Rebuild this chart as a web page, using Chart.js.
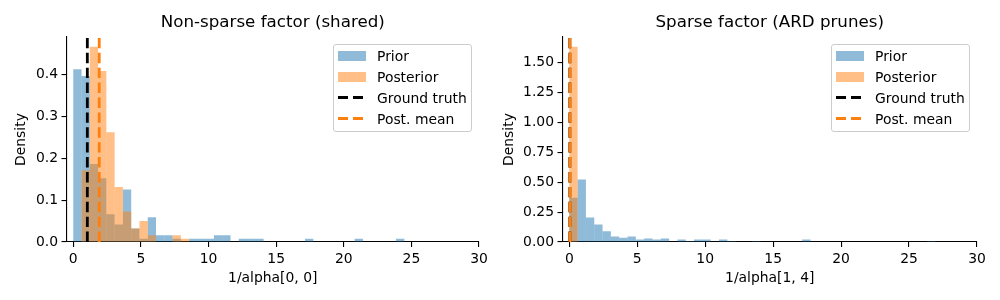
<!DOCTYPE html>
<html lang="en">
<head>
<meta charset="UTF-8" />
<title>Prior vs posterior of 1/alpha</title>
<script src="https://cdn.jsdelivr.net/npm/chart.js"></script>
<style>
  body { margin: 0; background: #fff; font-family: 'DejaVu Sans', sans-serif; }
  .fig { position: relative; width: 1000px; height: 300px; }
  .panel { position: absolute; top: 0; width: 500px; height: 300px; }
  .legend {
    position: absolute; top: 44px; width: 139px; height: 88px;
    box-sizing: border-box; border: 1px solid #cccccc; border-radius: 3px;
    background: rgba(255, 255, 255, 0.8); font-size: 13.9px; color: #000; z-index: 2;
  }
  .legend .row { position: absolute; left: 4px; height: 21px; display: flex; align-items: center; white-space: nowrap; }
  .legend .patch { width: 28px; height: 10px; margin-right: 11px; }
  .legend .dash { width: 28px; height: 2.8px; margin-right: 11px; }
</style>
</head>
<body>
<div class="fig">
  <div class="panel" style="left:0"><canvas id="c1" width="500" height="300"></canvas></div>
  <div class="panel" style="left:500px"><canvas id="c2" width="500" height="300"></canvas></div>
  <div class="legend" id="leg1" style="left:333px"></div>
  <div class="legend" id="leg2" style="left:831px"></div>
</div>

<script>
  // shared histogram bins over [0, 30]
  const binWidth = 0.612;

  // left panel: 1/alpha[0, 0], density per bin (bin 0 starts at 0)
  const priorDensity1 = [0.412, 0.396, 0.186, 0.152, 0.066, 0.042, 0.125, 0.032, 0.008, 0.059,
                         0.016, 0.016, 0.008, 0, 0.008, 0.008, 0.008, 0.016, 0.016, 0,
                         0.008, 0.008, 0.008, 0, 0, 0, 0, 0, 0.008, 0,
                         0, 0, 0, 0, 0.008, 0, 0, 0, 0, 0.008];
  const postDensity1 = [0, 0.171, 0.466, 0.408, 0.262, 0.131, 0.073, 0.032, 0.050, 0.016,
                        0, 0, 0.016, 0.008];
  const truth1 = 1.04;
  const postMean1 = 1.92;
  const yMax1 = 0.489;

  // right panel: 1/alpha[1, 4]
  const priorDensity2 = [0.370, 0.523, 0.204, 0.147, 0.090, 0.047, 0.036, 0.045, 0.020, 0.029,
                         0.020, 0.029, 0, 0.020, 0.008, 0.020, 0.020, 0, 0.020, 0.008,
                         0, 0, 0.008, 0, 0, 0, 0, 0, 0.020, 0,
                         0, 0, 0, 0, 0, 0, 0, 0, 0, 0,
                         0, 0, 0, 0.008];
  const postDensity2 = [1.633];
  const truth2 = 0.04;
  const postMean2 = 0.05;
  const yMax2 = 1.715;

  const legendItems = [
    { label: 'Prior', kind: 'patch', color: 'rgba(31,119,180,0.5)' },
    { label: 'Posterior', kind: 'patch', color: 'rgba(255,127,14,0.5)' },
    { label: 'Ground truth', kind: 'dash', color: '#000000' },
    { label: 'Post. mean', kind: 'dash', color: '#ff7f0e' }
  ];

  Chart.defaults.font.family = "'DejaVu Sans', sans-serif";
  Chart.defaults.color = '#000';

  const tickFont = { size: 13.9 };

  function toBars(dens) {
    return dens.map((d, i) => ({ x: (i + 0.5) * binWidth, y: d }));
  }

  function vline(x, yMax) {
    return [{ x: x, y: 0 }, { x: x, y: yMax }];
  }

  function makeChart(id, cfg) {
    const barOpts = { borderWidth: 0, barPercentage: 1, categoryPercentage: 1, grouped: false, inflateAmount: 0 };
    const lineOpts = { borderWidth: 2.8, borderDash: [10.4, 4.5], pointRadius: 0, fill: false, tension: 0 };
    return new Chart(document.getElementById(id), {
      type: 'bar',
      data: {
        datasets: [
          Object.assign({ label: 'Prior', data: toBars(cfg.prior), backgroundColor: 'rgba(31,119,180,0.5)', order: 3 }, barOpts),
          Object.assign({ label: 'Posterior', data: toBars(cfg.post), backgroundColor: 'rgba(255,127,14,0.5)', order: 2 }, barOpts),
          Object.assign({ type: 'line', label: 'Ground truth', data: vline(cfg.truth, cfg.yMax), borderColor: '#000000', order: 1 }, lineOpts),
          Object.assign({ type: 'line', label: 'Post. mean', data: vline(cfg.mean, cfg.yMax), borderColor: '#ff7f0e', order: 0 }, lineOpts)
        ]
      },
      options: {
        responsive: false,
        animation: false,
        layout: { padding: { left: 0, right: cfg.padRight, top: 0, bottom: 0 } },
        plugins: {
          legend: { display: false },
          tooltip: { enabled: false },
          title: {
            display: true, text: cfg.title, fullSize: false, color: '#000',
            font: { size: 16.7, weight: 'normal' }, padding: { top: 13, bottom: 4 }
          }
        },
        scales: {
          x: {
            type: 'linear', min: -0.5, max: 30, offset: false,
            afterFit: s => { s.height = 58; },
            border: { display: true, color: '#000', width: 1.1 },
            grid: { offset: false, drawOnChartArea: false, drawTicks: true, tickLength: 5, color: '#000', lineWidth: 1.1 },
            ticks: { stepSize: 5, includeBounds: false, font: tickFont, color: '#000', padding: 4, maxRotation: 0, autoSkip: false },
            title: { display: true, text: cfg.xLabel, color: '#000', font: tickFont, padding: { top: 0, bottom: 13 } }
          },
          y: {
            min: 0, max: cfg.yMax,
            afterFit: s => { s.width = cfg.yWidth; },
            border: { display: true, color: '#000', width: 1.1 },
            grid: { drawOnChartArea: false, drawTicks: true, tickLength: 5, color: '#000', lineWidth: 1.1 },
            ticks: { stepSize: cfg.yStep, includeBounds: false, font: tickFont, color: '#000', padding: 3.5,
                     callback: v => v.toFixed(cfg.yDigits) },
            title: { display: true, text: 'Density', color: '#000', font: tickFont, padding: { top: cfg.yTitlePad, bottom: 0 } }
          }
        }
      }
    });
  }

  function buildLegend(id) {
    const box = document.getElementById(id);
    legendItems.forEach((it, i) => {
      const row = document.createElement('div');
      row.className = 'row';
      row.style.top = (i * 21.1) + 'px';
      const h = document.createElement('div');
      if (it.kind === 'patch') {
        h.className = 'patch';
        h.style.background = it.color;
      } else {
        h.className = 'dash';
        h.style.background = 'repeating-linear-gradient(to right, ' + it.color + ' 0 10.4px, transparent 10.4px 14.9px)';
      }
      const t = document.createElement('span');
      t.textContent = it.label;
      row.appendChild(h);
      row.appendChild(t);
      box.appendChild(row);
    });
  }

  makeChart('c1', {
    prior: priorDensity1, post: postDensity1, truth: truth1, mean: postMean1,
    yMax: yMax1, yStep: 0.1, yDigits: 1, yWidth: 66.5, yTitlePad: 12.6, padRight: 21,
    title: 'Non-sparse factor (shared)', xLabel: '1/alpha[0, 0]'
  });
  makeChart('c2', {
    prior: priorDensity2, post: postDensity2, truth: truth2, mean: postMean2,
    yMax: yMax2, yStep: 0.25, yDigits: 2, yWidth: 62.5, yTitlePad: 1, padRight: 23,
    title: 'Sparse factor (ARD prunes)', xLabel: '1/alpha[1, 4]'
  });
  buildLegend('leg1');
  buildLegend('leg2');
</script>
</body>
</html>
